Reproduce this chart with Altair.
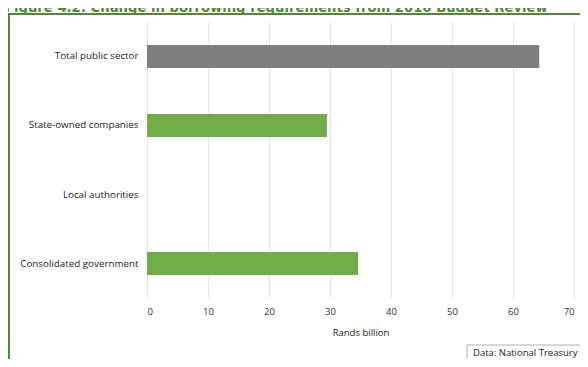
import altair as alt
import pandas as pd

categories = ["Total public sector", "State-owned companies", "Local authorities", "Consolidated government"]
values = [64.3, 29.5, 0.0, 34.6]
bar_colors = ["#7f7f7f", "#70ad47", "#70ad47", "#70ad47"]
x_ticks = [0, 10, 20, 30, 40, 50, 60, 70]
title_text = "Figure 4.2: Change in borrowing requirements from 2016 Budget Review"
source_text = "Data: National Treasury"

df = pd.DataFrame({"category": categories, "value": values})

W, H = 427, 276
FONT = "Open Sans"

bars = alt.Chart(df).mark_bar().encode(
    y=alt.Y("category:N", sort=categories,
            scale=alt.Scale(paddingInner=0.667, paddingOuter=0.333),
            axis=alt.Axis(title=None, domain=False, ticks=False, labelPadding=9,
                          labelFont=FONT, labelFontSize=9.8, labelColor="#222222",
                          labelLimit=200)),
    x=alt.X("value:Q", scale=alt.Scale(domain=[0, 70], nice=False),
            axis=alt.Axis(values=x_ticks, title="Rands billion", domain=False, ticks=False,
                          grid=True, gridColor="#e3e3e3", gridWidth=1,
                          labelFont=FONT, labelFontSize=9.5, labelColor="#333333",
                          labelPadding=8, titleFont=FONT, titleFontSize=9.5,
                          titleFontWeight="normal", titleColor="#222222", titlePadding=12)),
    color=alt.Color("category:N", scale=alt.Scale(domain=categories, range=bar_colors), legend=None),
)

frame = alt.Chart(pd.DataFrame({"a": [0]})).mark_rect(
    fill=None, stroke="#4e8a2e", strokeWidth=2
).encode(
    x=alt.value(-138), x2=alt.value(W + 60), y=alt.value(-8), y2=alt.value(H + 100)
)

title = alt.Chart(pd.DataFrame({"t": [title_text]})).mark_text(
    align="left", baseline="alphabetic", font="DejaVu Sans", fontWeight="bold",
    fontSize=13.2, color="#4e8a2e"
).encode(text="t:N", x=alt.value(-142), y=alt.value(-10))

src_box = alt.Chart(pd.DataFrame({"a": [0]})).mark_rect(
    fill="white", stroke="#9a9a9a", strokeWidth=0.8
).encode(
    x=alt.value(320), x2=alt.value(W + 40), y=alt.value(H + 47), y2=alt.value(H + 80)
)

src_text = alt.Chart(pd.DataFrame({"t": [source_text]})).mark_text(
    align="left", baseline="middle", font=FONT, fontSize=9.5, color="#222222"
).encode(text="t:N", x=alt.value(326), y=alt.value(H + 55))

chart = alt.layer(frame, title, bars, src_box, src_text).properties(
    width=W, height=H,
    autosize=alt.AutoSizeParams(type="none"),
    padding={"left": 139, "top": 14, "right": 6, "bottom": 61},
).configure_view(stroke=None)

chart.save("out.html", embed_options={"renderer": "svg", "actions": False})
